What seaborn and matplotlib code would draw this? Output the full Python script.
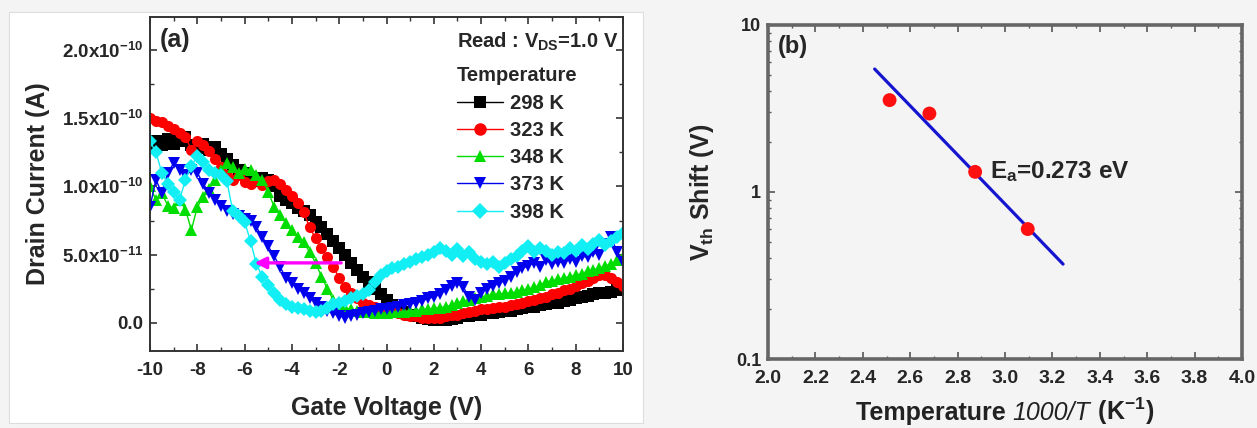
import numpy as np
import pandas as pd
import matplotlib
matplotlib.use("Agg")
import matplotlib.pyplot as plt
from matplotlib.lines import Line2D
from matplotlib.patches import Rectangle
from matplotlib.offsetbox import TextArea, HPacker, AnchoredOffsetbox
from matplotlib.ticker import MultipleLocator, FixedLocator, FixedFormatter, LogLocator, NullFormatter
import seaborn as sns

# ---------------- data: panel (a) ----------------
gate_v = np.arange(-10, 10.001, 0.25)  # V, 81 sweep points

# drain currents in units of 1e-10 A
i_298 = [1.28, 1.33, 1.30, 1.35, 1.31, 1.33, 1.36, 1.30, 1.28, 1.31, 1.27, 1.29, 1.24, 1.20, 1.16, 1.12,
         1.10, 1.07, 1.04, 1.06, 1.05, 1.00, 0.93, 0.90, 0.88, 0.84, 0.82, 0.79, 0.74, 0.70, 0.65, 0.60,
         0.55, 0.50, 0.44, 0.39, 0.34, 0.30, 0.25, 0.21, 0.17, 0.13, 0.10, 0.08, 0.06, 0.05, 0.04, 0.03,
         0.02, 0.02, 0.02, 0.03, 0.04, 0.05, 0.05, 0.06, 0.06, 0.07, 0.07, 0.08, 0.09, 0.09, 0.10, 0.11,
         0.12, 0.12, 0.13, 0.14, 0.15, 0.15, 0.16, 0.17, 0.18, 0.19, 0.20, 0.21, 0.22, 0.22, 0.23, 0.24, 0.25]
i_323 = [1.50, 1.48, 1.47, 1.44, 1.42, 1.39, 1.36, 1.27, 1.33, 1.30, 1.26, 1.20, 1.14, 1.08, 1.05, 1.08,
         1.03, 1.02, 1.05, 1.01, 1.04, 1.05, 1.02, 0.97, 0.93, 0.88, 0.81, 0.70, 0.62, 0.55, 0.48, 0.41,
         0.33, 0.26, 0.22, 0.18, 0.15, 0.13, 0.12, 0.10, 0.09, 0.08, 0.07, 0.06, 0.05, 0.05, 0.04, 0.04,
         0.04, 0.04, 0.05, 0.06, 0.06, 0.07, 0.08, 0.09, 0.10, 0.10, 0.11, 0.12, 0.12, 0.13, 0.14, 0.15,
         0.16, 0.17, 0.18, 0.19, 0.21, 0.22, 0.24, 0.25, 0.27, 0.29, 0.31, 0.33, 0.35, 0.35, 0.33, 0.30, 0.27]
i_348 = [1.00, 0.90, 0.95, 0.86, 0.84, 0.90, 0.83, 0.68, 0.85, 0.92, 0.98, 1.05, 1.12, 1.17, 1.14, 1.10,
         1.13, 1.12, 1.08, 1.05, 0.96, 0.85, 0.79, 0.73, 0.68, 0.63, 0.59, 0.52, 0.44, 0.34, 0.25, 0.17,
         0.14, 0.11, 0.10, 0.09, 0.08, 0.08, 0.07, 0.07, 0.07, 0.08, 0.08, 0.08, 0.09, 0.09, 0.10, 0.10,
         0.11, 0.11, 0.12, 0.13, 0.15, 0.16, 0.17, 0.18, 0.19, 0.20, 0.21, 0.21, 0.22, 0.22, 0.23, 0.24,
         0.25, 0.26, 0.28, 0.30, 0.31, 0.32, 0.33, 0.34, 0.35, 0.36, 0.38, 0.39, 0.40, 0.42, 0.43, 0.46, 0.48]
i_373 = [0.85, 1.05, 0.95, 1.10, 1.17, 1.12, 1.08, 1.12, 1.10, 1.02, 0.95, 0.90, 0.86, 0.82, 0.80, 0.78,
         0.76, 0.75, 0.70, 0.63, 0.56, 0.49, 0.41, 0.33, 0.29, 0.25, 0.22, 0.18, 0.15, 0.12, 0.09, 0.07,
         0.05, 0.04, 0.05, 0.06, 0.07, 0.08, 0.09, 0.10, 0.10, 0.11, 0.12, 0.13, 0.14, 0.15, 0.16, 0.18,
         0.19, 0.21, 0.24, 0.27, 0.29, 0.26, 0.19, 0.17, 0.22, 0.25, 0.27, 0.29, 0.31, 0.34, 0.37, 0.40,
         0.42, 0.44, 0.41, 0.46, 0.43, 0.45, 0.44, 0.47, 0.45, 0.49, 0.48, 0.52, 0.50, 0.58, 0.63, 0.52, 0.45]
i_398 = [1.33, 1.25, 1.10, 1.02, 0.96, 0.90, 1.05, 1.15, 1.22, 1.18, 1.12, 1.10, 1.08, 1.04, 0.82, 0.78,
         0.74, 0.60, 0.43, 0.34, 0.28, 0.22, 0.17, 0.14, 0.12, 0.11, 0.10, 0.09, 0.08, 0.09, 0.11, 0.14,
         0.15, 0.16, 0.18, 0.20, 0.21, 0.24, 0.30, 0.35, 0.38, 0.40, 0.41, 0.43, 0.45, 0.47, 0.48, 0.50,
         0.52, 0.55, 0.53, 0.50, 0.54, 0.49, 0.52, 0.47, 0.45, 0.43, 0.45, 0.41, 0.44, 0.47, 0.49, 0.53,
         0.56, 0.52, 0.55, 0.53, 0.50, 0.52, 0.51, 0.55, 0.53, 0.57, 0.54, 0.58, 0.61, 0.57, 0.60, 0.63, 0.66]

temps = ["298 K", "323 K", "348 K", "373 K", "398 K"]
currents = [i_298, i_323, i_348, i_373, i_398]
colors = {"298 K": "#000000", "323 K": "#ff0000", "348 K": "#00dd00", "373 K": "#0000ee", "398 K": "#11eef4"}
markers = {"298 K": "s", "323 K": "o", "348 K": "^", "373 K": "v", "398 K": "D"}

yticks_a = [0.0, 5e-11, 1e-10, 1.5e-10, 2e-10]
ytick_labels_a = ["0.0", r"5.0x10$^{-11}$", r"1.0x10$^{-10}$", r"1.5x10$^{-10}$", r"2.0x10$^{-10}$"]
xticks_a = [-10, -8, -6, -4, -2, 0, 2, 4, 6, 8, 10]

# shift arrow (V, A)
arrow_start = (-1.8, 4.4e-11)
arrow_end = (-5.7, 4.4e-11)

# ---------------- data: panel (b) ----------------
inv_T = [2.513, 2.681, 2.874, 3.096]       # 1000/T (K^-1)
vth_shift = [3.55, 2.95, 1.32, 0.60]       # V
fit_x = [2.45, 3.245]
fit_y = [5.45, 0.37]
xticks_b = [2.0, 2.2, 2.4, 2.6, 2.8, 3.0, 3.2, 3.4, 3.6, 3.8, 4.0]

# ---------------- style ----------------
sns.set_theme(style="ticks")
plt.rcParams["font.family"] = ["Liberation Sans", "DejaVu Sans"]
plt.rcParams["font.weight"] = "bold"
plt.rcParams["axes.labelweight"] = "bold"
plt.rcParams["mathtext.fontset"] = "custom"
plt.rcParams["mathtext.rm"] = "Liberation Sans:bold"
plt.rcParams["mathtext.bf"] = "Liberation Sans:bold"
plt.rcParams["mathtext.it"] = "Liberation Sans:italic:bold"
plt.rcParams["mathtext.default"] = "rm"
plt.rcParams["axes.unicode_minus"] = False

fig = plt.figure(figsize=(12.57, 4.28), dpi=100)
fig.patch.set_facecolor("#f4f4f4")
fig.patches.append(Rectangle((9 / 1257, 1 - 423 / 428), (643 - 9) / 1257, (423 - 12) / 428,
                             transform=fig.transFigure, facecolor="white", edgecolor="#dddddd",
                             linewidth=0.8, zorder=-10))

ax1 = fig.add_axes([150 / 1257, 1 - 351 / 428, (623 - 150) / 1257, (351 - 17) / 428])
ax2 = fig.add_axes([768 / 1257, 1 - 359 / 428, (1242 - 768) / 1257, (359 - 25) / 428])

# ---------------- panel (a) ----------------
rows = []
for t, cur in zip(temps, currents):
    for v, c in zip(gate_v, cur):
        rows.append({"Gate Voltage": v, "Current": c * 1e-10, "Temperature": t})
df = pd.DataFrame(rows)

for t in temps:
    sub = df[df["Temperature"] == t]
    sns.lineplot(data=sub, x="Gate Voltage", y="Current", ax=ax1, color=colors[t],
                 marker=markers[t], markersize=8 if markers[t] != "D" else 7,
                 markeredgewidth=0, linewidth=1.0, legend=False, sort=False)

ax1.annotate("", xy=arrow_end, xytext=arrow_start,
             arrowprops=dict(arrowstyle="-|>", color="#ff00ff", lw=2.4, mutation_scale=17),
             zorder=10)

ax1.set_facecolor("white")
ax1.set_xlim(-10, 10)
ax1.set_ylim(-2.05e-11, 2.24e-10)
ax1.set_xticks(xticks_a)
ax1.set_xticklabels([str(x) for x in xticks_a])
ax1.xaxis.set_minor_locator(MultipleLocator(1))
ax1.set_yticks(yticks_a)
ax1.set_yticklabels(ytick_labels_a)
ax1.yaxis.set_minor_locator(MultipleLocator(2.5e-11))
ax1.tick_params(axis="both", which="both", direction="in", top=True, right=True,
                labelsize=13.5, color="#333333")
ax1.tick_params(which="major", length=5, width=1.2)
ax1.tick_params(axis="x", which="major", pad=8)
ax1.tick_params(axis="y", which="major", pad=5)
ax1.tick_params(which="minor", length=3, width=1.0)
for s in ax1.spines.values():
    s.set_linewidth(1.4)
    s.set_color("#333333")
ax1.set_xlabel("Gate Voltage (V)", fontsize=18, labelpad=12)
ax1.set_ylabel("Drain Current (A)", fontsize=18, labelpad=8)
ax1.text(0.02, 0.93, "(a)", transform=ax1.transAxes, fontsize=18, fontweight="bold",
         va="center", ha="left")
ax1.text(0.648, 0.925, r"Read : V$_{DS}$=1.0 V", transform=ax1.transAxes, fontsize=14.5,
         fontweight="bold", va="center", ha="left")

handles = [Line2D([], [], color=colors[t], marker=markers[t], markersize=9 if markers[t] != "D" else 8,
                  markeredgewidth=0, linewidth=1.0) for t in temps]
leg = ax1.legend(handles, temps, title="Temperature", loc="upper left",
                 bbox_to_anchor=(0.648, 0.852), frameon=False, fontsize=14.5,
                 title_fontproperties={"weight": "bold", "size": 14.5},
                 handlelength=2.3, handletextpad=0.35, labelspacing=0.41, borderpad=0,
                 borderaxespad=0)
leg._legend_box.align = "left"

# ---------------- panel (b) ----------------
ax2.set_facecolor("#f4f4f4")
sns.lineplot(x=fit_x, y=fit_y, ax=ax2, color="#1515d0", linewidth=2.3, legend=False)
sns.scatterplot(x=inv_T, y=vth_shift, ax=ax2, color="#ff1010", s=100, edgecolor="none",
                legend=False, zorder=3)
ax2.set_yscale("log")
ax2.set_xlim(2.0, 4.0)
ax2.set_ylim(0.1, 10)
ax2.set_xticks(xticks_b)
ax2.set_xticklabels([f"{x:.1f}" for x in xticks_b])
ax2.xaxis.set_minor_locator(MultipleLocator(0.1))
ax2.yaxis.set_major_locator(FixedLocator([0.1, 1, 10]))
ax2.yaxis.set_major_formatter(FixedFormatter(["0.1", "1", "10"]))
ax2.yaxis.set_minor_locator(LogLocator(base=10, subs=np.arange(2, 10)))
ax2.yaxis.set_minor_formatter(NullFormatter())
ax2.tick_params(axis="both", which="both", direction="in", top=True, right=True, color="#555555")
ax2.tick_params(axis="x", which="major", labelsize=14, length=5, width=1.2, pad=8)
ax2.tick_params(axis="y", which="major", labelsize=13, length=5, width=1.2, pad=5)
ax2.tick_params(which="minor", length=2.5, width=1.0)
for s in ax2.spines.values():
    s.set_linewidth(2.6)
    s.set_color("#666666")

# x label with italic part
lab_kw = dict(fontsize=18, fontweight="bold", color="#222222")
xl_parts = [TextArea("Temperature ", textprops=lab_kw),
            TextArea("1000/T", textprops=dict(lab_kw, fontstyle="italic", fontweight="normal")),
            TextArea(r" (K$^{-1}$)", textprops=lab_kw)]
xl_box = HPacker(children=xl_parts, align="baseline", pad=0, sep=0)
anch = AnchoredOffsetbox(loc="upper center", child=xl_box, pad=0, frameon=False,
                         bbox_to_anchor=(0.5, -0.11), bbox_transform=ax2.transAxes,
                         borderpad=0)
ax2.add_artist(anch)

ax2.set_ylabel(r"V$_{th}$ Shift (V)", fontsize=18, labelpad=14)
ax2.text(0.02, 0.935, "(b)", transform=ax2.transAxes, fontsize=17, fontweight="bold",
         va="center", ha="left")
ax2.text(2.935, 1.32, r"E$_{a}$=0.273 eV", fontsize=17.5, fontweight="bold", va="center", ha="left")

fig.savefig("out.png", dpi=100, facecolor=fig.get_facecolor())
